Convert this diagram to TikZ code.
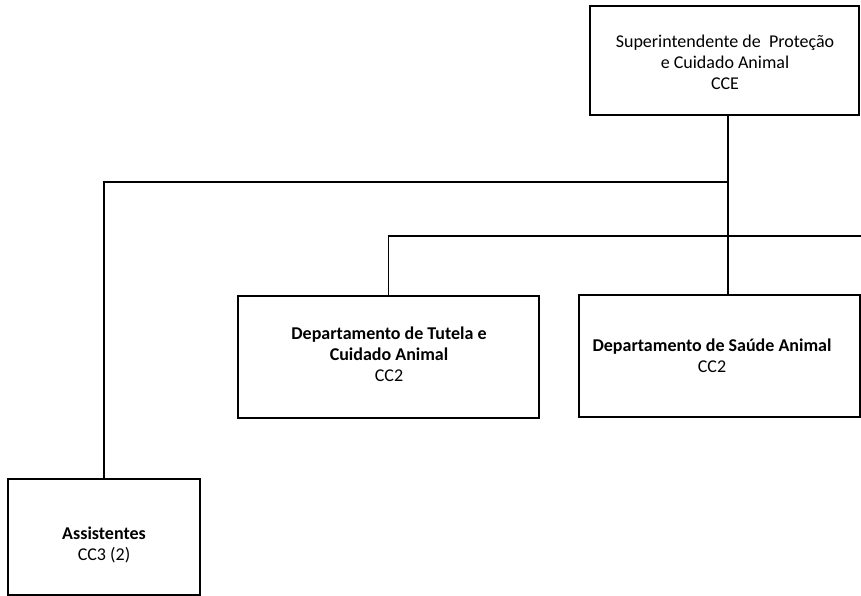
\documentclass[tikz,border=0pt]{standalone}
\usepackage{fontspec}
\setmainfont{Carlito}
\begin{document}
\begin{tikzpicture}[x=1pt,y=-1pt,
  box/.style={draw, line width=1.8pt, inner sep=0pt},
  lbl/.style={align=center, inner sep=0pt, font=\fontsize{18}{21}\selectfont},
  conn/.style={line width=1.2pt}]
\useasboundingbox (0,0) rectangle (861,596);
\clip (0,0) rectangle (861,596);
\node[box, minimum width=269pt, minimum height=109pt] (sup) at (724.5,60.5) {};
\node[lbl] (supt) at (725,62) {Superintendente de\ \ Proteção\\e Cuidado Animal\\CCE};
\node[box, minimum width=301pt, minimum height=122pt] (tutela) at (388.5,357) {};
\node[lbl] (tutelat) at (389,354) {\textbf{Departamento de Tutela e}\\\textbf{Cuidado Animal}\\CC2};
\node[box, minimum width=281pt, minimum height=122pt] (saude) at (719.5,356) {};
\node[lbl] (saudet) at (712,356) {\textbf{Departamento de Saúde Animal}\\CC2};
\node[box, minimum width=192pt, minimum height=116pt] (assist) at (104,537) {};
\node[lbl] (assistt) at (104,545) {\textbf{Assistentes}\\CC3 (2)};
\coordinate (j1) at (728,182);
\coordinate (j2) at (728,236);
\coordinate (e) at (861,236);
\draw[conn] (sup.south -| j1) -- (j1) -- (j2) -- (j2 |- saude.north);
\draw[conn] (j1) -| (assist.north);
\draw[conn] (e) -- (j2) -| (tutela.north);
\end{tikzpicture}
\end{document}
